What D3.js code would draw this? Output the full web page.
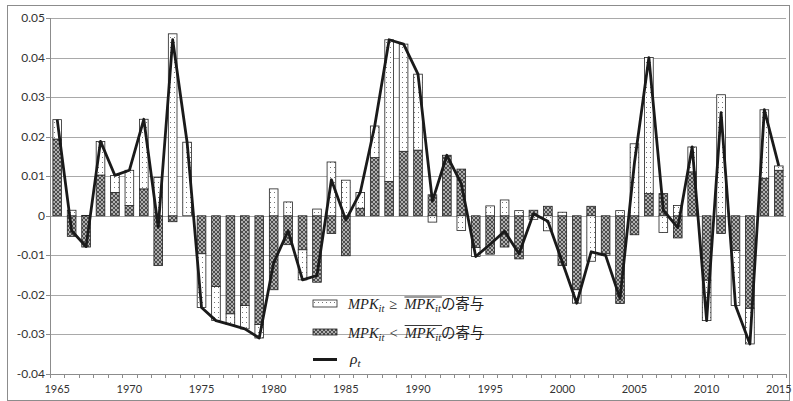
<!DOCTYPE html>
<html>
<head>
<meta charset="utf-8">
<script src="https://cdn.jsdelivr.net/npm/d3@7/dist/d3.min.js"></script>
<style>
  body { margin: 0; background: #fff; }
  svg { display: block; }
</style>
</head>
<body>
<svg id="chart" width="793" height="401"></svg>
<script>
// Years on the category axis
const years = [1965,1966,1967,1968,1969,1970,1971,1972,1973,1974,
               1975,1976,1977,1978,1979,1980,1981,1982,1983,1984,
               1985,1986,1987,1988,1989,1990,1991,1992,1993,1994,
               1995,1996,1997,1998,1999,2000,2001,2002,2003,2004,
               2005,2006,2007,2008,2009,2010,2011,2012,2013,2014,2015];

// Contribution of firms with MPK >= mean MPK (dotted bars)
const aboveMean = [0.0049,0.0014,0.0001,0.0085,0.0043,0.0089,0.0176,0.0097,0.0460,0.0186,
                   -0.0136,-0.0086,-0.0027,-0.0059,-0.0034,0.0068,0.0035,-0.0076,0.0017,0.0136,
                   0.0090,0.0040,0.0080,0.0358,0.0271,0.0192,-0.0016,0.0000,-0.0037,-0.0023,
                   0.0025,0.0040,0.0013,-0.0009,-0.0038,0.0009,-0.0034,-0.0115,-0.0004,0.0013,
                   0.0182,0.0344,-0.0042,0.0026,0.0063,-0.0102,0.0306,-0.0139,-0.0090,0.0173,0.0011];

// Contribution of firms with MPK < mean MPK (cross-hatched bars)
const belowMean = [0.0194,-0.0052,-0.0079,0.0103,0.0059,0.0026,0.0068,-0.0126,-0.0015,0.0000,
                   -0.0096,-0.0179,-0.0248,-0.0227,-0.0275,-0.0187,-0.0073,-0.0086,-0.0168,-0.0045,
                   -0.0101,0.0019,0.0147,0.0087,0.0163,0.0166,0.0053,0.0153,0.0118,-0.0080,
                   -0.0097,-0.0079,-0.0109,0.0014,0.0024,-0.0126,-0.0187,0.0024,-0.0096,-0.0222,
                   -0.0048,0.0056,0.0056,-0.0056,0.0111,-0.0163,-0.0045,-0.0088,-0.0234,0.0095,0.0115];

// rho_t (line)
const rho = [0.0243,-0.0038,-0.0078,0.0188,0.0102,0.0115,0.0244,-0.0029,0.0445,0.0186,
             -0.0232,-0.0265,-0.0275,-0.0286,-0.0309,-0.0119,-0.0038,-0.0162,-0.0151,0.0091,
             -0.0011,0.0059,0.0227,0.0445,0.0434,0.0358,0.0037,0.0153,0.0081,-0.0103,
             -0.0072,-0.0039,-0.0096,0.0005,-0.0014,-0.0117,-0.0221,-0.0091,-0.0100,-0.0209,
             0.0134,0.0400,0.0014,-0.0030,0.0174,-0.0265,0.0261,-0.0227,-0.0324,0.0268,0.0126];

// Axis ticks
const yTicks = [0.05,0.04,0.03,0.02,0.01,0,-0.01,-0.02,-0.03,-0.04];
const yTickLabels = ["0.05","0.04","0.03","0.02","0.01","0","-0.01","-0.02","-0.03","-0.04"];
const xLabelYears = [1965,1970,1975,1980,1985,1990,1995,2000,2005,2010,2015];

const svg = d3.select("#chart");
const labelFont = "Lato, 'Open Sans', sans-serif";
const serif = "'Liberation Serif', 'DejaVu Serif', serif";
const cjk = "'Noto Sans CJK JP', sans-serif";

const plot = { left: 50, right: 786, top: 18, bottom: 374 };

const x = d3.scaleBand()
  .domain(years)
  .range([plot.left, plot.right])
  .paddingInner(0.4)
  .paddingOuter(0.2);

const y = d3.scaleLinear()
  .domain([-0.04, 0.05])
  .range([plot.bottom, plot.top]);

// Fill patterns
const defs = svg.append("defs");
const dots = defs.append("pattern")
  .attr("id", "patDots")
  .attr("patternUnits", "userSpaceOnUse")
  .attr("width", 4).attr("height", 5);
dots.append("rect").attr("width", 4).attr("height", 5).attr("fill", "#fff");
dots.append("rect").attr("x", 2).attr("y", 2).attr("width", 1).attr("height", 1).attr("fill", "#777");

const hatch = defs.append("pattern")
  .attr("id", "patHatch")
  .attr("patternUnits", "userSpaceOnUse")
  .attr("width", 4).attr("height", 4);
hatch.append("rect").attr("width", 4).attr("height", 4).attr("fill", "#4d4d4d");
hatch.append("path")
  .attr("d", "M0,0L4,4M4,0L0,4")
  .attr("stroke", "#c8c8c8").attr("stroke-width", 0.8);

// Outer frame
svg.append("rect")
  .attr("x", 7.5).attr("y", 5.5)
  .attr("width", 782).attr("height", 395)
  .attr("fill", "none").attr("stroke", "#8c8c8c").attr("stroke-width", 1);

// Horizontal gridlines
svg.append("g")
  .selectAll("line")
  .data(yTicks)
  .join("line")
  .attr("x1", plot.left).attr("x2", plot.right)
  .attr("y1", d => Math.round(y(d)) + 0.5)
  .attr("y2", d => Math.round(y(d)) + 0.5)
  .attr("stroke", "#a9a9a9").attr("stroke-width", 1);

// Y axis
const yAxis = svg.append("g");
yAxis.append("line")
  .attr("x1", plot.left + 0.5).attr("x2", plot.left + 0.5)
  .attr("y1", plot.top).attr("y2", plot.bottom + 0.5)
  .attr("stroke", "#8c8c8c");
yAxis.selectAll("line.tick")
  .data(yTicks)
  .join("line")
  .attr("class", "tick")
  .attr("x1", plot.left - 4).attr("x2", plot.left)
  .attr("y1", d => Math.round(y(d)) + 0.5)
  .attr("y2", d => Math.round(y(d)) + 0.5)
  .attr("stroke", "#8c8c8c");
yAxis.selectAll("text")
  .data(yTicks)
  .join("text")
  .attr("x", plot.left - 5)
  .attr("y", d => y(d) + 4)
  .attr("text-anchor", "end")
  .attr("font-family", labelFont)
  .attr("font-size", 12)
  .attr("fill", "#333")
  .text((d, i) => yTickLabels[i]);

// X axis (bottom)
const xAxis = svg.append("g");
const step = x.step();
const boundaries = years.map(d => x(d) - step * x.paddingOuter()).concat([plot.right]);
xAxis.append("line")
  .attr("x1", plot.left).attr("x2", plot.right)
  .attr("y1", plot.bottom + 0.5).attr("y2", plot.bottom + 0.5)
  .attr("stroke", "#8c8c8c");
xAxis.selectAll("line.tick")
  .data(boundaries)
  .join("line")
  .attr("class", "tick")
  .attr("x1", d => Math.round(d) + 0.5).attr("x2", d => Math.round(d) + 0.5)
  .attr("y1", plot.bottom).attr("y2", plot.bottom + 4)
  .attr("stroke", "#8c8c8c");
xAxis.selectAll("text")
  .data(xLabelYears)
  .join("text")
  .attr("x", d => x(d) + x.bandwidth() / 2)
  .attr("y", plot.bottom + 19)
  .attr("text-anchor", "middle")
  .attr("font-family", labelFont)
  .attr("font-size", 11)
  .attr("fill", "#333")
  .text(d => d);

// Stacked bars: below-mean segment sits next to zero, above-mean stacked beyond it
const rows = years.map((yr, i) => ({ year: yr, below: belowMean[i], above: aboveMean[i] }));
const stack = d3.stack()
  .keys(["below", "above"])
  .offset(d3.stackOffsetDiverging);
const series = stack(rows);
const fills = { below: "url(#patHatch)", above: "url(#patDots)" };

svg.append("g")
  .selectAll("g")
  .data(series)
  .join("g")
  .attr("fill", s => fills[s.key])
  .selectAll("rect")
  .data(s => s.filter(d => d[1] !== d[0]))
  .join("rect")
  .attr("x", d => x(d.data.year))
  .attr("width", x.bandwidth())
  .attr("y", d => y(Math.max(d[0], d[1])))
  .attr("height", d => Math.abs(y(d[0]) - y(d[1])))
  .attr("stroke", "#222")
  .attr("stroke-width", 0.8);

// rho_t line
const line = d3.line()
  .x((d, i) => x(years[i]) + x.bandwidth() / 2)
  .y(d => y(d));
svg.append("path")
  .datum(rho)
  .attr("d", line)
  .attr("fill", "none")
  .attr("stroke", "#1a1a1a")
  .attr("stroke-width", 2.8)
  .attr("stroke-linejoin", "round");

// Legend
const legend = svg.append("g");
const lx = 313, lw = 24;
legend.append("rect").attr("x", lx).attr("y", 300).attr("width", lw).attr("height", 7)
  .attr("fill", "url(#patDots)").attr("stroke", "#222").attr("stroke-width", 0.8);
legend.append("rect").attr("x", lx).attr("y", 329).attr("width", lw).attr("height", 6)
  .attr("fill", "url(#patHatch)").attr("stroke", "#222").attr("stroke-width", 0.8);
legend.append("line").attr("x1", lx).attr("x2", lx + lw).attr("y1", 359.5).attr("y2", 359.5)
  .attr("stroke", "#1a1a1a").attr("stroke-width", 3);

function mathLabel(tx, ty, rel) {
  const t = legend.append("text")
    .attr("x", tx).attr("y", ty)
    .attr("fill", "#222")
    .attr("font-size", 14.5);
  t.append("tspan").attr("font-family", serif).attr("font-style", "italic").text("MPK");
  t.append("tspan").attr("font-family", serif).attr("font-style", "italic")
    .attr("font-size", 10.5).attr("dy", 3).text("it");
  t.append("tspan").attr("font-family", serif).attr("dy", -3).attr("dx", 5).text(rel);
  t.append("tspan").attr("font-family", serif).attr("font-style", "italic").attr("dx", 7).text("MPK");
  t.append("tspan").attr("font-family", serif).attr("font-style", "italic")
    .attr("font-size", 10.5).attr("dy", 3).text("it");
  t.append("tspan").attr("font-family", cjk).attr("font-size", 14.5).attr("dy", -3).text("の寄与");
  // overline across the second MPK_it (characters 6..10 of the text content)
  const n = t.node();
  const x0 = n.getStartPositionOfChar(6).x;
  const x1 = n.getEndPositionOfChar(10).x;
  legend.append("line")
    .attr("x1", x0).attr("x2", x1 + 1)
    .attr("y1", ty - 12).attr("y2", ty - 12)
    .attr("stroke", "#222").attr("stroke-width", 0.9);
}
mathLabel(348, 309, "\u2265");
mathLabel(348, 337.5, "<");

const rt = legend.append("text").attr("x", 350).attr("y", 364).attr("fill", "#222");
rt.append("tspan").attr("font-family", serif).attr("font-style", "italic").attr("font-size", 15.5).text("\u03C1");
rt.append("tspan").attr("font-family", serif).attr("font-style", "italic").attr("font-size", 11).attr("dy", 3).text("t");
</script>
</body>
</html>
